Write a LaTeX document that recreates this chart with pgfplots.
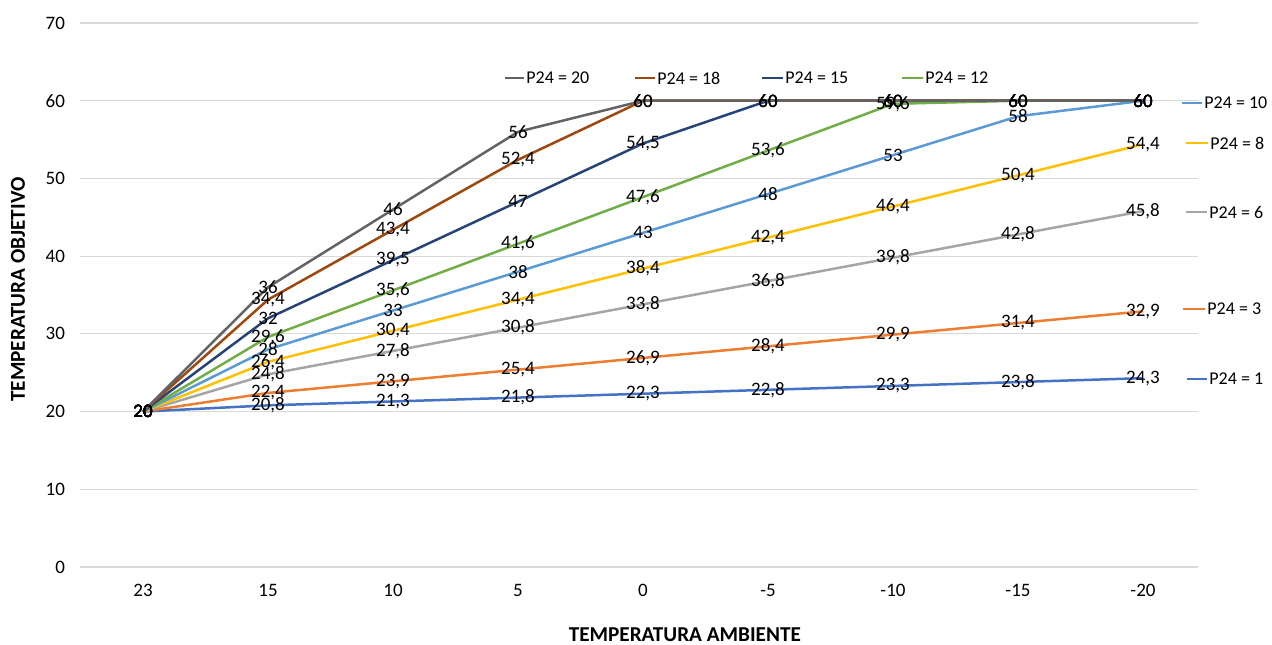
\documentclass[border=0pt]{standalone}
\usepackage{pgfplots}
\usepackage{pgfplotstable}
\usepackage{fontspec}
\setmainfont{Carlito}
\pgfplotsset{compat=1.18}

\definecolor{cP1}{HTML}{4472C4}
\definecolor{cP3}{HTML}{ED7D31}
\definecolor{cP6}{HTML}{A5A5A5}
\definecolor{cP8}{HTML}{FFC000}
\definecolor{cP10}{HTML}{5B9BD5}
\definecolor{cP12}{HTML}{70AD47}
\definecolor{cP15}{HTML}{264478}
\definecolor{cP18}{HTML}{9E480E}
\definecolor{cP20}{HTML}{636363}
\definecolor{gridc}{HTML}{D9D9D9}

\pgfplotstableread{
x  P1   P3   P6   P8   P10  P12  P15  P18  P20
0  20   20   20   20   20   20   20   20   20
1  20.8 22.4 24.8 26.4 28   29.6 32   34.4 36
2  21.3 23.9 27.8 30.4 33   35.6 39.5 43.4 46
3  21.8 25.4 30.8 34.4 38   41.6 47   52.4 56
4  22.3 26.9 33.8 38.4 43   47.6 54.5 60   60
5  22.8 28.4 36.8 42.4 48   53.6 60   60   60
6  23.3 29.9 39.8 46.4 53   59.6 60   60   60
7  23.8 31.4 42.8 50.4 58   60   60   60   60
8  24.3 32.9 45.8 54.4 60   60   60   60   60
}\datatable

% legend sample: x1, x2, y, colour, text
\newcommand{\legitem}[5]{%
  \draw[#4, line width=1pt] (axis cs:#1,#3) -- (axis cs:#2,#3);
  \node[anchor=west, inner sep=0pt, xshift=1pt, font=\fontsize{9}{10}\selectfont] at (axis cs:#2,#3) {#5};
}

\begin{document}
\begin{tikzpicture}
\path[use as bounding box] (-40pt,-38.5pt) rectangle (596pt,283.5pt);
\begin{axis}[
    at={(0,0)}, anchor=south west,
    scale only axis,
    width=559pt, height=272pt,
    xmin=-0.504, xmax=8.44,
    ymin=0, ymax=70,
    xtick={0,1,2,3,4,5,6,7,8},
    xticklabels={23,15,10,5,0,-5,-10,-15,-20},
    ytick={0,10,20,30,40,50,60,70},
    ymajorgrids=true,
    grid style={gridc, line width=0.6pt},
    axis line style={draw=none},
    major tick length=0pt,
    tick label style={font=\fontsize{9.5}{11}\selectfont, black},
    /pgf/number format/assume math mode=true,
    /pgf/number format/use comma,
    xticklabel style={yshift=-5pt},
    yticklabel style={xshift=-4pt},
    xlabel={TEMPERATURA AMBIENTE},
    ylabel={TEMPERATURA OBJETIVO},
    label style={font=\fontsize{10.6}{12}\selectfont\bfseries},
    xlabel style={at={(axis description cs:0.541,-0.125)}, anchor=center},
    ylabel style={at={(axis description cs:-0.0555,0.51)}, anchor=center, rotate=0},
    clip=false,
]
\addplot[cP1,  line width=1.25pt] table[x=x, y=P1]  {\datatable};
\addplot[cP3,  line width=1.25pt] table[x=x, y=P3]  {\datatable};
\addplot[cP6,  line width=1.25pt] table[x=x, y=P6]  {\datatable};
\addplot[cP8,  line width=1.25pt] table[x=x, y=P8]  {\datatable};
\addplot[cP10, line width=1.25pt] table[x=x, y=P10] {\datatable};
\addplot[cP12, line width=1.25pt] table[x=x, y=P12] {\datatable};
\addplot[cP15, line width=1.25pt] table[x=x, y=P15] {\datatable};
\addplot[cP18, line width=1.25pt] table[x=x, y=P18] {\datatable};
\addplot[cP20, line width=1.25pt] table[x=x, y=P20] {\datatable};

\pgfplotsset{labelplot/.style={draw=none, mark=none, nodes near coords,
    every node near coord/.append style={anchor=center, inner sep=0pt,
      font=\fontsize{9.5}{11}\selectfont, text=black}}}
\foreach \c in {P1,P3,P6,P8,P10,P12,P15,P18,P20} {
  \addplot[labelplot] table[x=x, y=\c] {\datatable};
}

\legitem{2.896}{3.048}{62.93}{cP20}{P24 = 20}
\legitem{3.936}{4.096}{62.93}{cP18}{P24 = 18}
\legitem{4.952}{5.120}{62.93}{cP15}{P24 = 15}
\legitem{6.072}{6.240}{62.93}{cP12}{P24 = 12}
\legitem{8.312}{8.472}{59.71}{cP10}{P24 = 10}
\legitem{8.344}{8.520}{54.56}{cP8}{P24 = 8}
\legitem{8.344}{8.512}{45.68}{cP6}{P24 = 6}
\legitem{8.320}{8.496}{33.20}{cP3}{P24 = 3}
\legitem{8.352}{8.512}{24.19}{cP1}{P24 = 1}
\end{axis}
\end{tikzpicture}
\end{document}
